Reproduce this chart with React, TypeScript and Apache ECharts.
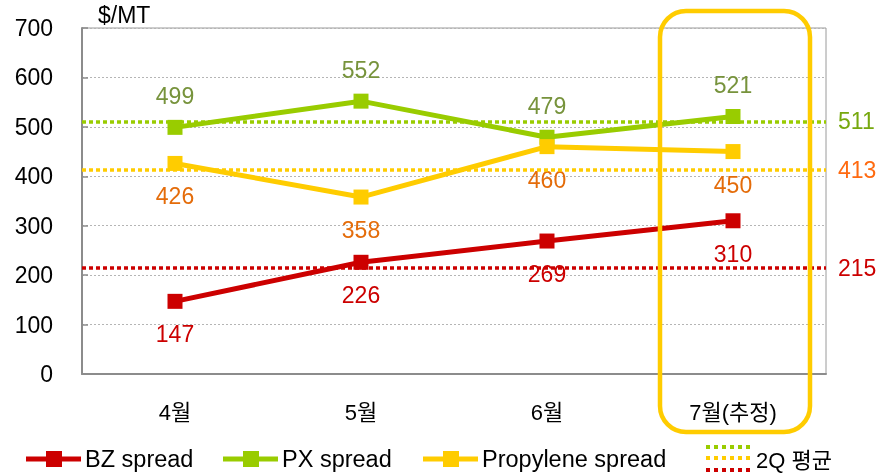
import React, { useEffect, useRef } from "react";
import * as echarts from "echarts";

const categories = ["4월", "5월", "6월", "7월(추정)"];
const seriesNames = ["BZ spread", "PX spread", "Propylene spread"];
const bzSpread = [147, 226, 269, 310];
const pxSpread = [499, 552, 479, 521];
const propyleneSpread = [426, 358, 460, 450];
const bzAvg2Q = 215;
const pxAvg2Q = 511;
const propyleneAvg2Q = 413;
const yMin = 0;
const yMax = 700;
const yInterval = 100;
const unitLabel = "$/MT";
const avgLegendLabel = "2Q 평균";

const RED = "#CC0000";
const GREEN = "#99CC00";
const YELLOW = "#FFCC00";
const NUM_FONT = "'Liberation Sans', Arial, sans-serif";
const TEXT_FONT = "'Liberation Sans', 'Noto Sans CJK KR', sans-serif";
const seriesColors = [RED, GREEN, YELLOW];
const legendX = [26, 223, 423];
const LEGEND_Y = 459;

function avgLine(value: number, color: string, labelColor: string) {
  return {
    silent: true,
    symbol: "none",
    data: [{ yAxis: value }],
    lineStyle: { color, type: [4, 3], width: 3.5 },
    label: {
      position: "end",
      distance: 12,
      color: labelColor,
      fontSize: 23,
      fontFamily: NUM_FONT,
      formatter: "{c}",
    },
    emphasis: { disabled: true },
  };
}

function legendItem(name: string, color: string, x: number) {
  return {
    type: "group",
    x,
    y: LEGEND_Y,
    silent: true,
    children: [
      { type: "line", shape: { x1: 0, y1: 0, x2: 55, y2: 0 }, style: { stroke: color, lineWidth: 5 } },
      { type: "rect", shape: { x: 20, y: -8, width: 16, height: 16 }, style: { fill: color } },
      {
        type: "text",
        x: 59,
        y: 0,
        style: { text: name, fill: "#000", fontSize: 23.5, fontFamily: TEXT_FONT, verticalAlign: "middle" },
      },
    ],
  };
}

export default function App() {
  const ref = useRef<HTMLDivElement>(null);
  useEffect(() => {
    if (!ref.current) return;
    const chart = echarts.init(ref.current, null, { renderer: "svg" });
    chart.setOption({
      animation: false,
      grid: {
        left: 82,
        right: 70,
        top: 28,
        bottom: 102,
        show: true,
        borderColor: "#9a9a9a",
        borderWidth: 1,
        backgroundColor: "transparent",
      },
      legend: { show: false },
      xAxis: {
        type: "category",
        data: categories,
        boundaryGap: true,
        axisLine: { lineStyle: { color: "#8c8c8c", width: 2 } },
        axisTick: { inside: true, length: 7, lineStyle: { color: "#8c8c8c", width: 1.5 } },
        axisLabel: { color: "#000", fontSize: 22, margin: 27, fontFamily: TEXT_FONT },
      },
      yAxis: {
        type: "value",
        min: yMin,
        max: yMax,
        interval: yInterval,
        name: unitLabel,
        nameLocation: "end",
        nameGap: 13,
        nameTextStyle: {
          color: "#000",
          fontSize: 23,
          fontFamily: NUM_FONT,
          align: "left",
          verticalAlign: "middle",
          padding: [0, 0, 0, 16],
        },
        axisLine: { show: true, lineStyle: { color: "#8c8c8c", width: 2 } },
        axisTick: { show: true, inside: true, length: 6, lineStyle: { color: "#8c8c8c", width: 1.5 } },
        axisLabel: { color: "#000", fontSize: 23, margin: 29, fontFamily: NUM_FONT },
        splitLine: { lineStyle: { color: "#b5b5b5", type: [2, 2], width: 1 } },
      },
      series: [
        {
          name: seriesNames[0],
          type: "line",
          data: bzSpread,
          symbol: "rect",
          symbolSize: 15,
          lineStyle: { color: RED, width: 5 },
          itemStyle: { color: RED },
          label: { show: true, position: "bottom", distance: 14, color: RED, fontSize: 23, fontFamily: NUM_FONT },
          markLine: avgLine(bzAvg2Q, RED, RED),
          z: 3,
        },
        {
          name: seriesNames[1],
          type: "line",
          data: pxSpread,
          symbol: "rect",
          symbolSize: 15,
          lineStyle: { color: GREEN, width: 5 },
          itemStyle: { color: GREEN },
          label: { show: true, position: "top", distance: 12, color: "#77933C", fontSize: 23, fontFamily: NUM_FONT },
          markLine: avgLine(pxAvg2Q, GREEN, "#76A80E"),
          z: 3,
        },
        {
          name: seriesNames[2],
          type: "line",
          data: propyleneSpread,
          symbol: "rect",
          symbolSize: 15,
          lineStyle: { color: YELLOW, width: 5 },
          itemStyle: { color: YELLOW },
          label: { show: true, position: "bottom", distance: 14, color: "#E46C0A", fontSize: 23, fontFamily: NUM_FONT },
          markLine: avgLine(propyleneAvg2Q, YELLOW, "#FF6A10"),
          z: 3,
        },
      ],
      graphic: [
        {
          type: "rect",
          shape: { x: 660, y: 11, width: 150, height: 421, r: 26 },
          style: { fill: "none", stroke: YELLOW, lineWidth: 4.5 },
          z: 100,
          silent: true,
        },
        ...seriesNames.map((n, i) => legendItem(n, seriesColors[i], legendX[i])),
        {
          type: "group",
          x: 706,
          y: 447,
          silent: true,
          children: [
            { type: "line", shape: { x1: 0, y1: 0, x2: 44, y2: 0 }, style: { stroke: GREEN, lineWidth: 4, lineDash: [4, 4] } },
            { type: "line", shape: { x1: 0, y1: 11, x2: 44, y2: 11 }, style: { stroke: YELLOW, lineWidth: 4, lineDash: [4, 4] } },
            { type: "line", shape: { x1: 0, y1: 23, x2: 44, y2: 23 }, style: { stroke: RED, lineWidth: 4, lineDash: [4, 4] } },
            {
              type: "text",
              x: 50,
              y: 13,
              style: { text: avgLegendLabel, fill: "#000", fontSize: 22, fontFamily: TEXT_FONT, verticalAlign: "middle" },
            },
          ],
        },
      ],
    });
    return () => chart.dispose();
  }, []);
  return <div ref={ref} style={{ position: "fixed", left: 0, top: 0, width: 896, height: 476 }} />;
}
